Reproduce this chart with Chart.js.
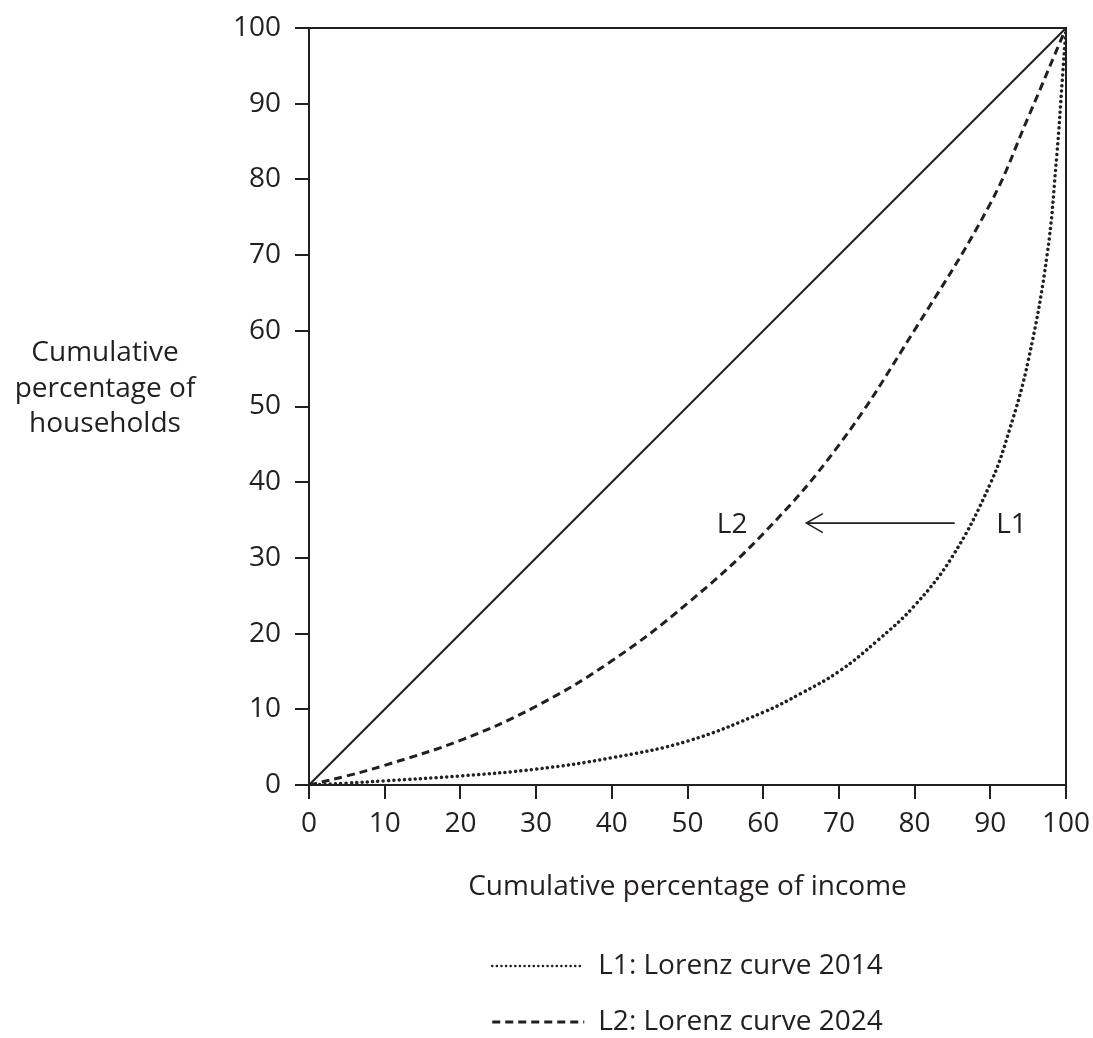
<!DOCTYPE html>
<html>
<head>
<meta charset="utf-8">
<script src="https://cdn.jsdelivr.net/npm/chart.js@4.4.1/dist/chart.umd.min.js"></script>
<style>
  html, body { margin: 0; padding: 0; background: #fff; }
  #wrap { width: 1093px; height: 1038px; position: relative; }
</style>
</head>
<body>
<div id="wrap"><canvas id="chart"></canvas></div>
<script>
// data
const equalityX = [0, 100]
const equalityY = [0, 100]

const l1X = [0, 5, 10, 20, 30, 40, 50, 60, 65, 70, 75, 80, 85, 90, 92.5, 95, 97.5, 98.8, 99.5, 100]
const l1Y = [0, 0.25, 0.55, 1.2, 2.1, 3.6, 5.8, 9.6, 12.1, 15.0, 19.0, 23.7, 30.2, 39.8, 46.8, 56, 70, 83.4, 93, 100]

const l2X = [0, 5, 10, 20, 30, 40, 50, 60, 70, 80, 90, 95, 100]
const l2Y = [0, 1.2, 2.6, 5.9, 10.4, 16.4, 24, 33.2, 44.9, 60.1, 76.8, 88.2, 100]

const axisTicks = [0, 10, 20, 30, 40, 50, 60, 70, 80, 90, 100]

const seriesLabels = ['L1: Lorenz curve 2014', 'L2: Lorenz curve 2024']
const xTitle = 'Cumulative percentage of income'
const yTitleLines = ['Cumulative', 'percentage of', 'households']

// curve tags and arrow, in data units
const curveTags = [
  { text: 'L2', x: 55.9, y: 33.3 },
  { text: 'L1', x: 92.8, y: 33.3 }
]
const arrow = { from: 85.3, to: 65.7, y: 34.6 }

const ink = '#231f20'
const font = '"Open Sans", "Noto Sans", sans-serif'

// legend samples are drawn a little finer than the curves
const legendStyle = {
  1: { lineWidth: 2.6, lineDash: [0.01, 4.6], lineCap: 'round' },
  2: { lineWidth: 3, lineDash: [8, 5], lineCap: 'butt' }
}

const toPoints = (xs, ys) => xs.map((x, i) => ({ x: x, y: ys[i] }))

// frame on top and right, y title, tags and arrow
const extras = {
  id: 'extras',
  afterDraw(chart) {
    const { ctx, chartArea: a, scales } = chart
    const xs = scales.x, ys = scales.y
    ctx.save()
    ctx.strokeStyle = ink
    ctx.lineWidth = 2
    ctx.beginPath()
    ctx.moveTo(a.left, a.top)
    ctx.lineTo(a.right, a.top)
    ctx.lineTo(a.right, a.bottom)
    ctx.stroke()

    ctx.fillStyle = ink
    ctx.font = '28px ' + font
    ctx.textAlign = 'center'
    ctx.textBaseline = 'alphabetic'
    yTitleLines.forEach((line, i) => {
      ctx.fillText(line, a.left - 204, a.top + 333 + i * 35.5)
    })

    curveTags.forEach(t => {
      ctx.fillText(t.text, xs.getPixelForValue(t.x), ys.getPixelForValue(t.y))
    })

    const x0 = xs.getPixelForValue(arrow.from)
    const x1 = xs.getPixelForValue(arrow.to)
    const y = ys.getPixelForValue(arrow.y)
    ctx.lineWidth = 1.6
    ctx.beginPath()
    ctx.moveTo(x0, y)
    ctx.lineTo(x1, y)
    ctx.moveTo(x1 + 16.5, y - 9.5)
    ctx.lineTo(x1, y)
    ctx.lineTo(x1 + 16.5, y + 9.5)
    ctx.stroke()
    ctx.restore()
  }
}

const ctx = document.getElementById('chart').getContext('2d')
new Chart(ctx, {
  type: 'line',
  data: {
    datasets: [
      {
        label: 'equality',
        data: toPoints(equalityX, equalityY),
        borderColor: ink,
        borderWidth: 2,
        pointRadius: 0
      },
      {
        label: seriesLabels[0],
        data: toPoints(l1X, l1Y),
        borderColor: ink,
        backgroundColor: ink,
        borderWidth: 3.5,
        borderDash: [0.01, 5.3],
        borderCapStyle: 'round',
        tension: 0.4,
        pointRadius: 0
      },
      {
        label: seriesLabels[1],
        data: toPoints(l2X, l2Y),
        borderColor: ink,
        backgroundColor: ink,
        borderWidth: 3,
        borderDash: [8, 5],
        tension: 0.4,
        pointRadius: 0
      }
    ]
  },
  options: {
    responsive: true,
    maintainAspectRatio: false,
    animation: false,
    layout: {
      padding: { left: 0, right: 27, top: 28, bottom: 0 }
    },
    plugins: {
      tooltip: { enabled: false },
      legend: {
        position: 'bottom',
        fullSize: false,
        maxHeight: 114,
        labels: {
          color: ink,
          font: { family: font, size: 28 },
          usePointStyle: true,
          pointStyle: 'line',
          pointStyleWidth: 92,
          padding: 28,
          filter: item => item.datasetIndex > 0,
          generateLabels(chart) {
            const items = Chart.defaults.plugins.legend.labels.generateLabels(chart)
            items.forEach(it => Object.assign(it, legendStyle[it.datasetIndex] || {}, { strokeStyle: ink }))
            return items
          }
        }
      }
    },
    scales: {
      x: {
        type: 'linear',
        min: 0,
        max: 100,
        afterBuildTicks: s => { s.ticks = axisTicks.map(v => ({ value: v })) },
        afterFit: s => { s.height = 139; s.paddingRight = 0; s.paddingLeft = 0 },
        grid: {
          display: true,
          drawOnChartArea: false,
          drawTicks: true,
          tickLength: 14,
          color: ink,
          lineWidth: 2
        },
        border: { display: true, color: ink, width: 2 },
        ticks: {
          color: ink,
          padding: 8,
          maxRotation: 0,
          font: { family: font, size: 28 }
        },
        title: {
          display: true,
          text: xTitle,
          color: ink,
          font: { family: font, size: 28 },
          padding: { top: 0, bottom: 20 }
        }
      },
      y: {
        type: 'linear',
        min: 0,
        max: 100,
        afterBuildTicks: s => { s.ticks = axisTicks.map(v => ({ value: v })) },
        afterFit: s => { s.width = 309; s.paddingTop = 0; s.paddingBottom = 0 },
        grid: {
          display: true,
          drawOnChartArea: false,
          drawTicks: true,
          tickLength: 14,
          color: ink,
          lineWidth: 2
        },
        border: { display: true, color: ink, width: 2 },
        ticks: {
          color: ink,
          padding: 14,
          font: { family: font, size: 28 }
        }
      }
    }
  },
  plugins: [extras]
})
</script>
</body>
</html>
